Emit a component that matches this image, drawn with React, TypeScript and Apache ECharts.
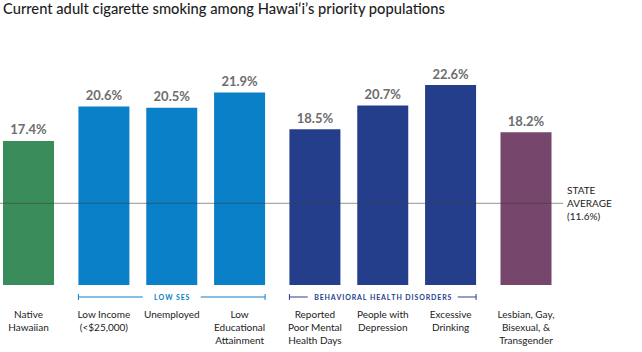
import React, { useEffect, useRef } from "react";
import * as echarts from "echarts";

const TITLE = "Current adult cigarette smoking among Hawai\u2018i\u2019s priority populations";

const nativeCats = ["Native\nHawaiian"];
const nativeVals = [17.4];
const sesCats = ["Low Income\n(<$25,000)", "Unemployed", "Low\nEducational\nAttainment"];
const sesVals = [20.6, 20.5, 21.9];
const bhCats = ["Reported\nPoor Mental\nHealth Days", "People with\nDepression", "Excessive\nDrinking"];
const bhVals = [18.5, 20.7, 22.6];
const lgbtCats = ["Lesbian, Gay,\nBisexual, &\nTransgender"];
const lgbtVals = [18.2];
const stateAverage = 11.6;
const groupNames = ["LOW SES", "BEHAVIORAL HEALTH DISORDERS"];

const COLORS = ["#3a8d5a", "#0a80c8", "#243e8b", "#77466c"];
const Y_MIN = 4;
const Y_MAX = 28;
const BAR_W = 51;
const FONT = "Lato, 'Open Sans', sans-serif";

export default function App() {
  const ref = useRef<HTMLDivElement>(null);
  useEffect(() => {
    if (!ref.current) return;
    const chart = echarts.init(ref.current, undefined, { renderer: "svg" });
    const grids = [
      { left: 3, width: 51, top: 27, bottom: 67 },
      { left: 70, width: 203.5, top: 27, bottom: 67 },
      { left: 281, width: 203.5, top: 27, bottom: 67 },
      { left: 500, width: 52, top: 27, bottom: 67 },
    ];
    const cats = [nativeCats, sesCats, bhCats, lgbtCats];
    const vals = [nativeVals, sesVals, bhVals, lgbtVals];
    const option: any = {
      animation: false,
      title: {
        text: TITLE,
        left: 3,
        top: 0,
        padding: 0,
        textStyle: { fontFamily: FONT, fontSize: 14.7, fontWeight: 500, color: "#1e1e1e" },
      },
      grid: grids,
      xAxis: cats.map((c, i) => ({
        type: "category",
        gridIndex: i,
        data: c,
        axisLine: { show: false },
        axisTick: { show: false },
        axisLabel: {
          interval: 0,
          margin: 22,
          fontFamily: FONT,
          fontSize: 10,
          lineHeight: 13,
          color: "#222",
          verticalAlign: "top",
        },
      })),
      yAxis: cats.map((_, i) => ({
        type: "value",
        gridIndex: i,
        min: Y_MIN,
        max: Y_MAX,
        show: false,
        splitLine: { show: false },
      })),
      series: vals.map((v, i) => ({
        type: "bar",
        xAxisIndex: i,
        yAxisIndex: i,
        data: v,
        barWidth: BAR_W,
        itemStyle: { color: COLORS[i] },
        label: {
          show: true,
          position: "top",
          distance: 5,
          formatter: "{c}%",
          fontFamily: FONT,
          fontSize: 13,
          fontWeight: "bold",
          color: "#6d6d6d",
        },
      })),
    };
    chart.setOption(option);

    const yAvg = chart.convertToPixel({ yAxisIndex: 0 }, stateAverage) as number;
    const yBase = chart.convertToPixel({ yAxisIndex: 0 }, Y_MIN) as number;
    const bracketY = yBase + 12;
    const bracket = (gi: number, n: number, text: string, color: string, textW: number) => {
      const x0 = (chart.convertToPixel({ xAxisIndex: gi }, 0) as number) - BAR_W / 2;
      const x1 = (chart.convertToPixel({ xAxisIndex: gi }, n - 1) as number) + BAR_W / 2;
      const cx = (x0 + x1) / 2;
      const half = textW / 2 + 7;
      return [
        { type: "line", shape: { x1: x0, y1: bracketY, x2: cx - half, y2: bracketY }, style: { stroke: color, lineWidth: 1 } },
        { type: "line", shape: { x1: cx + half, y1: bracketY, x2: x1, y2: bracketY }, style: { stroke: color, lineWidth: 1 } },
        { type: "line", shape: { x1: x0, y1: bracketY - 3, x2: x0, y2: bracketY + 3 }, style: { stroke: color, lineWidth: 1 } },
        { type: "line", shape: { x1: x1, y1: bracketY - 3, x2: x1, y2: bracketY + 3 }, style: { stroke: color, lineWidth: 1 } },
        {
          type: "text",
          x: cx,
          y: bracketY,
          style: {
            text: text.split("").join("\u2009"),
            fill: color,
            font: `bold 7px ${FONT}`,
            align: "center",
            verticalAlign: "middle",
          },
        },
      ];
    };
    chart.setOption({
      graphic: [
        {
          type: "line",
          z: 100,
          shape: { x1: 0, y1: yAvg, x2: 563, y2: yAvg },
          style: { stroke: "rgba(60,60,60,0.55)", lineWidth: 1 },
        },
        {
          type: "text",
          x: 567,
          y: yAvg,
          style: {
            text: "STATE\nAVERAGE\n(" + stateAverage + "%)",
            fill: "#222",
            font: `10px ${FONT}`,
            lineHeight: 13,
            align: "left",
            verticalAlign: "middle",
          },
        },
        ...bracket(1, sesCats.length, groupNames[0], COLORS[1], 44),
        ...bracket(2, bhCats.length, groupNames[1], COLORS[2], 136),
      ],
    });
    return () => chart.dispose();
  }, []);
  return (
    <div
      ref={ref}
      style={{ position: "absolute", left: 0, top: 0, width: 642, height: 352, background: "#fff" }}
    />
  );
}
